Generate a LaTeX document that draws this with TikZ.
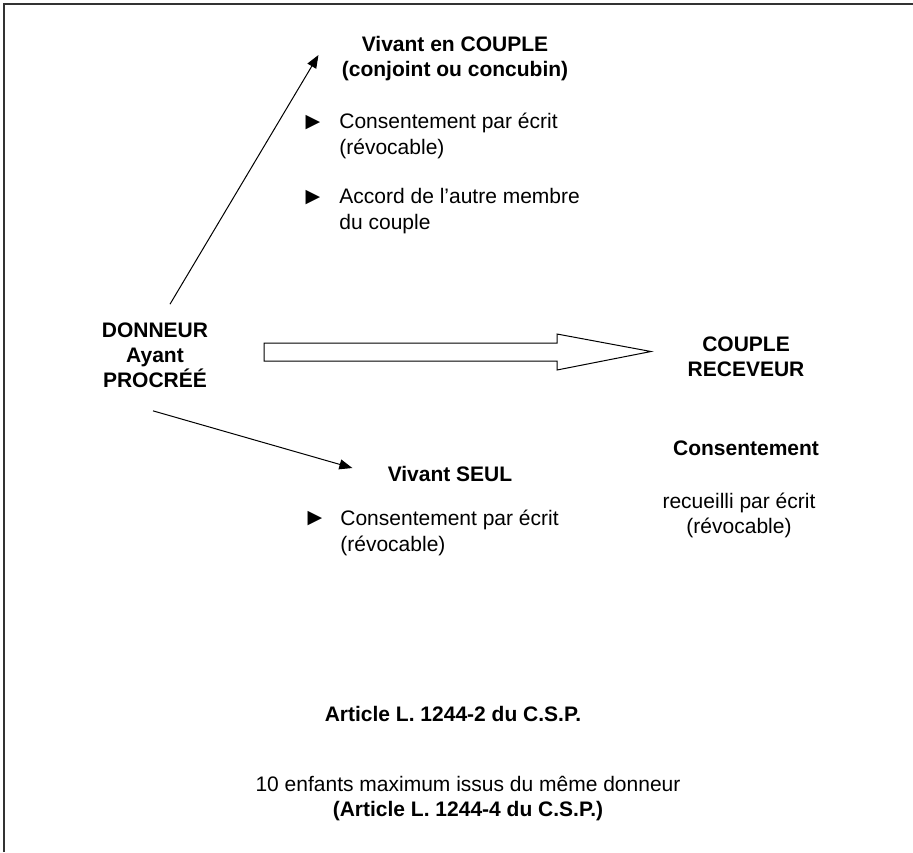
\documentclass[tikz,border=0pt]{standalone}
\usepackage{fontspec}
\setmainfont{Liberation Sans}
\newfontfamily\symboles{DejaVu Sans}
\usetikzlibrary{arrows.meta}

\tikzset{
  texte/.style={inner sep=0pt, font=\fontsize{10.5}{12.5}\selectfont},
  titre/.style={texte, font=\fontsize{10.5}{12.5}\selectfont\bfseries, align=center},
  liste/.style={texte, anchor=west, align=left, font=\fontsize{10.5}{13}\selectfont},
  puce/.style={inner sep=0pt, font=\symboles\fontsize{9.5}{9.5}\selectfont},
  fleche/.style={-{Triangle[length=6.5pt,width=5pt]}, line width=0.5pt},
}

\begin{document}
\begin{tikzpicture}[x=0.5pt, y=-0.5pt]
\useasboundingbox (0,0) rectangle (913,852);
% cadre
\draw[line width=1pt, black!80] (4,852) -- (4,4) -- (913,4);

% donneur
\node[titre] (donneur) at (155,355) {DONNEUR\\Ayant\\PROCRÉÉ};
% vivant en couple
\node[titre] (couple) at (455,59) {Vivant en COUPLE\\(conjoint ou concubin)};
\node[puce] (p1) at (313,123) {▶};
\node[liste] (c1) at (339,136) {Consentement par écrit\\(révocable)};
\node[puce] (p2) at (313,198) {▶};
\node[liste] (c2) at (339,211) {Accord de l’autre membre\\du couple};
% vivant seul
\node[titre] (seul) at (450,474) {Vivant SEUL};
\node[puce] (p3) at (315,519) {▶};
\node[liste] (c3) at (340,533) {Consentement par écrit\\(révocable)};
% receveur
\node[titre] (receveur) at (746,357) {COUPLE\\RECEVEUR};
\node[titre] (accord) at (746,448) {Consentement};
\node[texte, align=center] (recueil) at (739,515) {recueilli par écrit\\(révocable)};
% articles
\node[titre] (art2) at (453,714) {Article L. 1244-2 du C.S.P.};
\node[texte, align=center] (art4) at (468,799) {10 enfants maximum issus du même donneur\\\textbf{(Article L. 1244-4 du C.S.P.)}};

% fleches
\draw[fleche] ([xshift=7.5pt,yshift=9pt]donneur.north) -- ([xshift=-11.5pt,yshift=2pt]couple.west);
\draw[fleche] ([xshift=-1pt,yshift=-11.5pt]donneur.south) -- ([xshift=-17.5pt,yshift=3pt]seul.west);
\draw[line width=0.5pt] (264,343) -- (557,343) -- (557,334) -- (651,351.5) -- (557,370) -- (557,361) -- (264,361) -- cycle;
\end{tikzpicture}
\end{document}
